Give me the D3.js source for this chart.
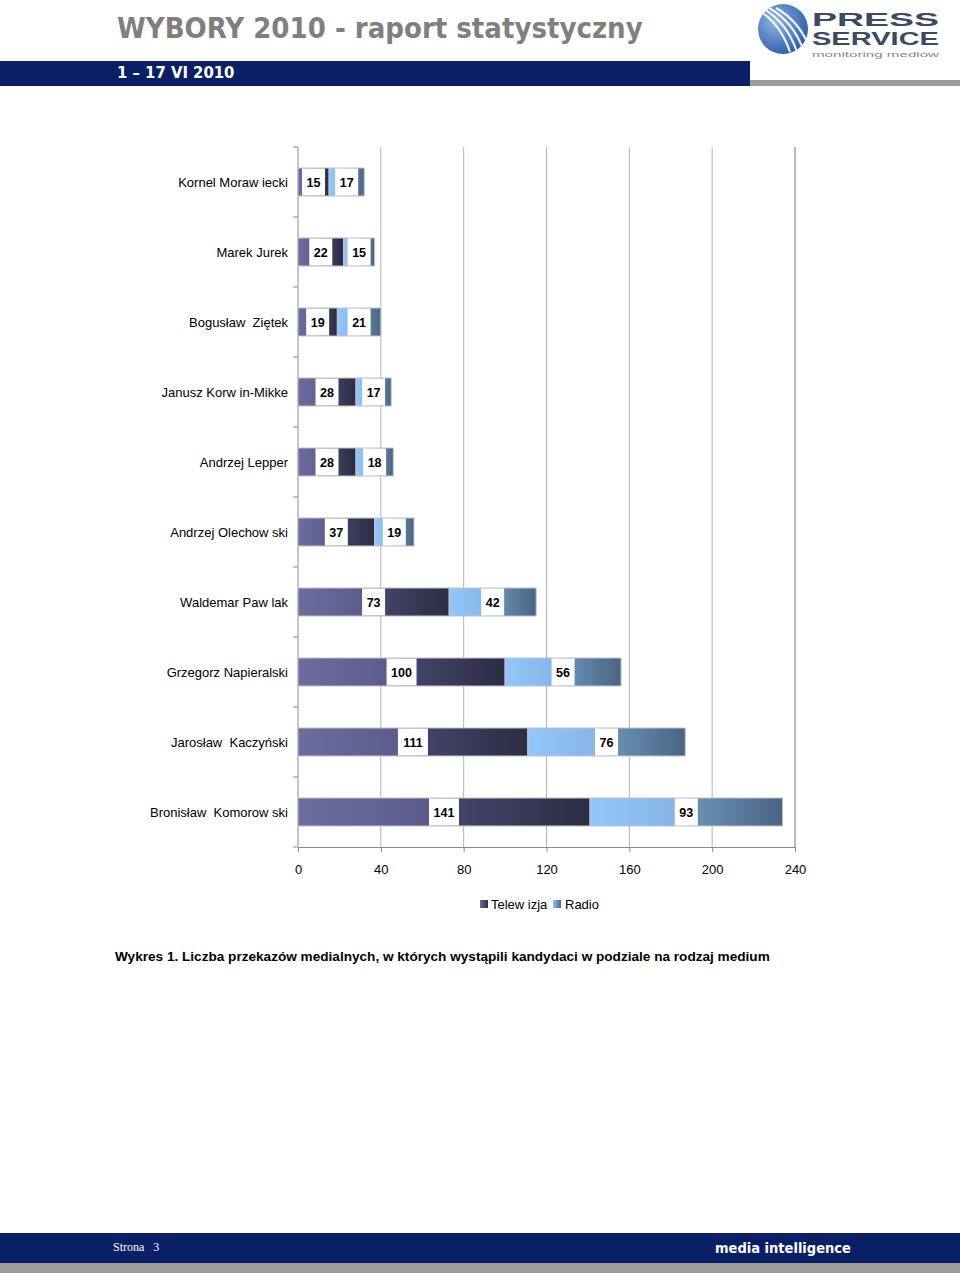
<!DOCTYPE html>
<html lang="pl">
<head>
<meta charset="UTF-8">
<title>WYBORY 2010 - raport statystyczny</title>
<style>
  body { margin: 0; padding: 0; background: #fff; }
  svg { display: block; }
</style>
</head>
<body>
<svg width="960" height="1273"></svg>
<script src="https://d3js.org/d3.v7.min.js"></script>
<script>
// data (top to bottom)
const candidates = ["Kornel Moraw iecki", "Marek Jurek", "Bogusław  Ziętek", "Janusz Korw in-Mikke",
  "Andrzej Lepper", "Andrzej Olechow ski", "Waldemar Paw lak", "Grzegorz Napieralski",
  "Jarosław  Kaczyński", "Bronisław  Komorow ski"];
const tvValues = [15, 22, 19, 28, 28, 37, 73, 100, 111, 141];
const radioValues = [17, 15, 21, 17, 18, 19, 42, 56, 76, 93];
const seriesNames = ["Telew izja", "Radio"];
const xTicks = [0, 40, 80, 120, 160, 200, 240];

const svg = d3.select("svg");
const defs = svg.append("defs");

// ===== header =====
svg.append("text").attr("x", 117).attr("y", 38)
  .attr("font-family", "DejaVu Sans Condensed, DejaVu Sans").attr("font-weight", "bold")
  .attr("font-size", 29).attr("fill", "#7f7f7f")
  .text("WYBORY 2010 - raport statystyczny");

svg.append("rect").attr("x", 0).attr("y", 61).attr("width", 750).attr("height", 25).attr("fill", "#0b1f66");
svg.append("rect").attr("x", 750).attr("y", 80).attr("width", 210).attr("height", 6).attr("fill", "#9c9c9c");
svg.append("text").attr("x", 117).attr("y", 78)
  .attr("font-family", "DejaVu Sans Condensed, DejaVu Sans").attr("font-weight", "bold")
  .attr("font-size", 16.5).attr("fill", "#fff").text("1 – 17 VI 2010");

// logo
const lg = defs.append("radialGradient").attr("id", "logoG").attr("cx", "35%").attr("cy", "35%").attr("r", "70%");
lg.append("stop").attr("offset", "0%").attr("stop-color", "#8fb4e6");
lg.append("stop").attr("offset", "100%").attr("stop-color", "#2c5ea8");
const logo = svg.append("g");
logo.append("circle").attr("cx", 783).attr("cy", 29).attr("r", 25).attr("fill", "url(#logoG)");
const clip = defs.append("clipPath").attr("id", "logoClip");
clip.append("circle").attr("cx", 783).attr("cy", 29).attr("r", 25);
const stripes = logo.append("g").attr("clip-path", "url(#logoClip)");
[-10, -3, 4, 11].forEach(o => {
  stripes.append("path")
    .attr("d", `M ${765 + o} ${8} Q ${790 + o} ${22} ${800 + o} ${52}`)
    .attr("stroke", "#fff").attr("stroke-width", 2.2).attr("fill", "none").attr("opacity", 0.9);
});
logo.append("text").attr("x", 812).attr("y", 26).attr("font-family", "Liberation Sans, Arial")
  .attr("font-weight", "bold").attr("font-size", 18).attr("fill", "#3b4a63")
  .attr("textLength", 127).attr("lengthAdjust", "spacingAndGlyphs").text("PRESS");
logo.append("text").attr("x", 812).attr("y", 45).attr("font-family", "Liberation Sans, Arial")
  .attr("font-weight", "bold").attr("font-size", 18).attr("fill", "#3b4a63")
  .attr("textLength", 127).attr("lengthAdjust", "spacingAndGlyphs").text("SERVICE");
logo.append("text").attr("x", 812).attr("y", 57).attr("font-family", "Liberation Sans, Arial")
  .attr("font-size", 8).attr("fill", "#888")
  .attr("textLength", 127).attr("lengthAdjust", "spacingAndGlyphs").text("monitoring mediów");

// ===== chart =====
const plotL = 298, plotR = 795, plotT = 147, plotB = 847;
const x = d3.scaleLinear().domain([0, 240]).range([plotL, plotR]);
const y = d3.scaleBand().domain(candidates).range([plotT, plotB]).paddingInner(0.6).paddingOuter(0.3);
const barH = 28;

function grad(id, stops) {
  const g = defs.append("linearGradient").attr("id", id).attr("x1", "0%").attr("x2", "100%");
  stops.forEach(s => g.append("stop").attr("offset", s[0]).attr("stop-color", s[1]));
}
grad("tvG", [["0%", "#6c6c9f"], ["49%", "#5a5a8a"], ["51%", "#46466c"], ["100%", "#2c2c45"]]);
grad("radioG", [["0%", "#93c6fa"], ["49%", "#84b4e4"], ["51%", "#6b94b8"], ["100%", "#4a6482"]]);
grad("tvL", [["0%", "#6c6c9f"], ["100%", "#2c2c45"]]);
grad("radioL", [["0%", "#93c6fa"], ["100%", "#4a6482"]]);

// gridlines
svg.append("g").selectAll("line").data(xTicks.slice(1)).join("line")
  .attr("x1", d => x(d)).attr("x2", d => x(d)).attr("y1", plotT).attr("y2", plotB)
  .attr("stroke", "#b3b3b3").attr("stroke-width", 1);

// bottom axis
const xAxis = svg.append("g").attr("transform", `translate(0,${plotB})`)
  .call(d3.axisBottom(x).tickValues(xTicks).tickSize(5).tickPadding(13));
xAxis.select(".domain").attr("stroke", "#8a8a8a");
xAxis.selectAll(".tick line").attr("stroke", "#8a8a8a");
xAxis.selectAll("text").attr("font-family", "Liberation Sans, Arial").attr("font-size", 13).attr("fill", "#000");

// left axis
svg.append("line").attr("x1", plotL).attr("x2", plotL).attr("y1", plotT).attr("y2", plotB).attr("stroke", "#8a8a8a");
const step = (plotB - plotT) / candidates.length;
svg.append("g").selectAll("line").data(d3.range(candidates.length + 1)).join("line")
  .attr("x1", plotL - 5).attr("x2", plotL).attr("y1", i => plotT + i * step).attr("y2", i => plotT + i * step)
  .attr("stroke", "#8a8a8a");
svg.append("g").selectAll("text").data(candidates).join("text")
  .attr("x", 288).attr("y", d => y(d) + y.bandwidth() / 2 + 5)
  .attr("text-anchor", "end").attr("font-family", "Liberation Sans, Arial").attr("font-size", 13)
  .attr("fill", "#000").style("white-space", "pre").text(d => d);

// bars
const rows = candidates.map((c, i) => ({ name: c, tv: tvValues[i], radio: radioValues[i] }));
const bars = svg.append("g");
rows.forEach(r => {
  const yc = y(r.name) + y.bandwidth() / 2;
  const segs = [
    { x0: 0, x1: r.tv, v: r.tv, fill: "url(#tvG)" },
    { x0: r.tv, x1: r.tv + r.radio, v: r.radio, fill: "url(#radioG)" }
  ];
  segs.forEach(s => {
    bars.append("rect").attr("x", x(s.x0)).attr("y", yc - barH / 2)
      .attr("width", x(s.x1) - x(s.x0)).attr("height", barH)
      .attr("fill", s.fill).attr("stroke", "#c2c2cc").attr("stroke-width", 1);
    const cx = (x(s.x0) + x(s.x1)) / 2;
    const w = String(s.v).length * 7 + 9;
    bars.append("rect").attr("x", cx - w / 2).attr("y", yc - barH / 2 + 0.5)
      .attr("width", w).attr("height", barH - 1).attr("fill", "#fff");
    bars.append("text").attr("x", cx).attr("y", yc + 4.5).attr("text-anchor", "middle")
      .attr("font-family", "Liberation Sans, Arial").attr("font-weight", "bold").attr("font-size", 12.5)
      .attr("fill", "#000").text(s.v);
  });
});

// right border of plot
svg.append("line").attr("x1", plotR).attr("x2", plotR).attr("y1", plotT).attr("y2", plotB).attr("stroke", "#9a9a9a");

// legend
const legend = svg.append("g");
[["tvL", 480, 491], ["radioL", 553, 565]].forEach((l, i) => {
  legend.append("rect").attr("x", l[1]).attr("y", 900).attr("width", 8).attr("height", 8).attr("fill", `url(#${l[0]})`);
  legend.append("text").attr("x", l[2]).attr("y", 909).attr("font-family", "Liberation Sans, Arial")
    .attr("font-size", 13).attr("fill", "#000").text(seriesNames[i]);
});

// caption
svg.append("text").attr("x", 115).attr("y", 961).attr("font-family", "Liberation Sans, Arial")
  .attr("font-weight", "bold").attr("font-size", 13.6).attr("fill", "#000")
  .text("Wykres 1. Liczba przekazów medialnych, w których wystąpili kandydaci w podziale na rodzaj medium");

// ===== footer =====
svg.append("rect").attr("x", 0).attr("y", 1233).attr("width", 960).attr("height", 30).attr("fill", "#0b1f66");
svg.append("rect").attr("x", 0).attr("y", 1263).attr("width", 960).attr("height", 10).attr("fill", "#9c9c9c");
svg.append("text").attr("x", 113).attr("y", 1251).attr("font-family", "Liberation Serif, serif")
  .attr("font-size", 12).attr("fill", "#fff").style("white-space", "pre").text("Strona   3");
svg.append("text").attr("x", 715).attr("y", 1253).attr("font-family", "DejaVu Sans Condensed, DejaVu Sans")
  .attr("font-weight", "bold").attr("font-size", 14.5).attr("fill", "#fff").text("media intelligence");
</script>
</body>
</html>
